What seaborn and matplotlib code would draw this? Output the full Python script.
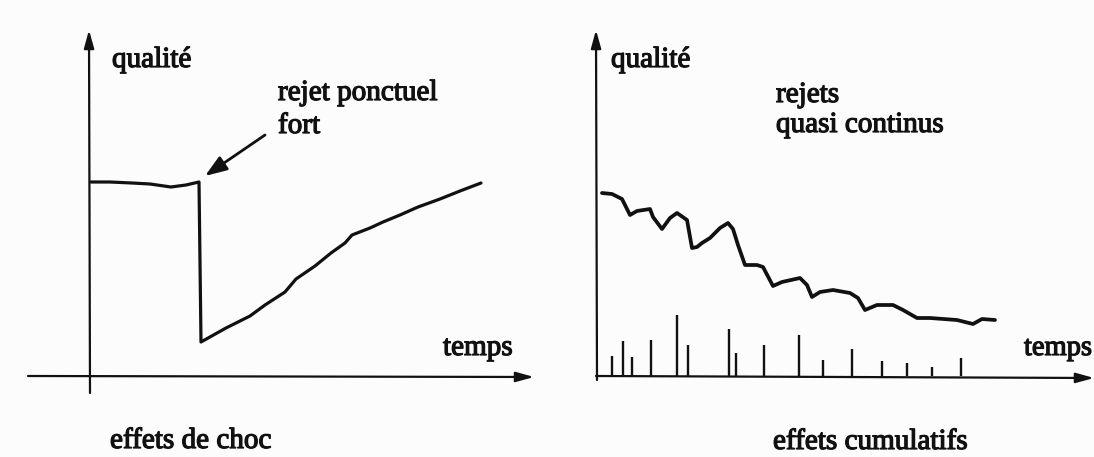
import numpy as np
import pandas as pd
import matplotlib
matplotlib.use("Agg")
import matplotlib.pyplot as plt
import matplotlib.patheffects as pe
import seaborn as sns

# courbe gauche : effets de choc (coordonnées, en pixels)
choc_x = [91, 110, 132, 150, 171, 186, 199, 199, 201, 226, 250, 265, 285, 296, 315,
          331, 345, 352, 370, 383, 400, 418, 440, 460, 481]
choc_y = [182, 182, 183, 184, 187, 185, 182, 182, 342, 328, 316, 305, 292, 279, 266,
          253, 243, 235, 228, 222, 215, 207, 199, 191, 183]

# courbe droite : effets cumulatifs
cumul_x = [602, 612, 622, 630, 637, 650, 653, 662, 670, 677, 687, 692, 697, 702, 710,
           720, 728, 733, 738, 745, 757, 763, 773, 782, 800, 807, 812, 820, 833, 850,
           858, 865, 877, 893, 903, 917, 930, 957, 973, 982, 995]
cumul_y = [193, 194, 199, 215, 211, 209, 217, 229, 218, 213, 220, 248, 247, 243, 238,
           228, 223, 229, 245, 265, 265, 267, 286, 282, 278, 285, 297, 292, 290, 293,
           298, 310, 305, 305, 310, 318, 318, 320, 324, 319, 320]

# rejets ponctuels (pics)
rejets_x = [612, 623, 632, 651, 677, 688, 729, 736, 764, 799, 823, 852, 882, 907, 932, 961]
rejets_top = [356, 341, 357, 340, 315, 345, 329, 353, 345, 335, 360, 349, 361, 363, 367, 358]

ink = "#111111"

sns.set_theme(style="white")
plt.rcParams["font.family"] = ["Liberation Serif", "DejaVu Serif"]

fig = plt.figure(figsize=(10.94, 4.57), dpi=100)
fig.patch.set_facecolor("#fcfcfc")
ax = fig.add_axes([0, 0, 1, 1])
ax.set_facecolor("#fcfcfc")
ax.set_xlim(0, 1094)
ax.set_ylim(457, 0)
ax.axis("off")

df_choc = pd.DataFrame({"x": choc_x, "y": choc_y})
df_cumul = pd.DataFrame({"x": cumul_x, "y": cumul_y})
sns.lineplot(data=df_choc, x="x", y="y", sort=False, color=ink, lw=2.3, ax=ax)
sns.lineplot(data=df_cumul, x="x", y="y", sort=False, color=ink, lw=2.7, ax=ax)

ax.vlines(rejets_x, 376, rejets_top, color=ink, lw=1.7)

# axes dessinés a la main
arrow = dict(arrowstyle="-|>,head_length=0.9,head_width=0.25", color=ink, lw=1.6,
             shrinkA=0, shrinkB=0)
ax.annotate("", xy=(89, 30), xytext=(90, 393), arrowprops=arrow)
ax.annotate("", xy=(534, 377), xytext=(28, 376), arrowprops=arrow)
ax.annotate("", xy=(596, 30), xytext=(597, 380), arrowprops=arrow)
ax.annotate("", xy=(1094, 378), xytext=(596, 376), arrowprops=arrow)

# fleche du rejet
ax.annotate("", xy=(205, 176), xytext=(265, 135),
            arrowprops=dict(arrowstyle="-|>,head_length=1.1,head_width=0.4",
                            color=ink, lw=2.0, shrinkA=0, shrinkB=0))

fs = 21
gras = [pe.withStroke(linewidth=0.9, foreground=ink)]
txt = dict(color=ink, fontsize=fs, ha="left", va="baseline", path_effects=gras)
ax.text(112, 67, "qualité", **txt)
ax.text(278, 100, "rejet ponctuel", **txt)
ax.text(278, 133, "fort", **txt)
ax.text(443, 355, "temps", **txt)
ax.text(110, 448, "effets de choc", **txt)

ax.text(611, 67, "qualité", **txt)
ax.text(776, 102, "rejets", **txt)
ax.text(776, 132, "quasi continus", **txt)
ax.text(1024, 355, "temps", color=ink, fontsize=20.5, ha="left", va="baseline",
        path_effects=gras)
ax.text(773, 449, "effets cumulatifs", **txt)

fig.savefig("out.png", dpi=100, facecolor=fig.get_facecolor())
